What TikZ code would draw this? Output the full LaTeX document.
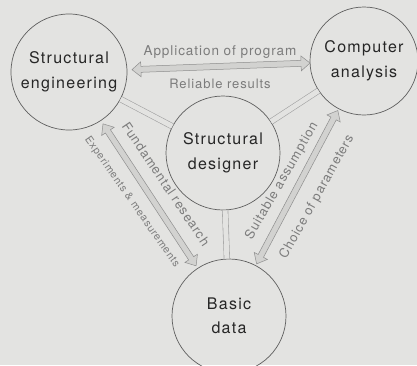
\documentclass[tikz,border=0pt]{standalone}
\usepackage{fontspec}
\setmainfont{TeX Gyre Heros}
\newfontfamily\mainf[LetterSpace=8]{TeX Gyre Heros}
\newfontfamily\labf[LetterSpace=7]{TeX Gyre Heros}
\usetikzlibrary{calc}
\definecolor{bg}{HTML}{E3E3E1}
\definecolor{circline}{HTML}{5E5E5E}
\definecolor{maintext}{HTML}{262626}
\definecolor{labtext}{HTML}{7C7C7C}
\definecolor{arrline}{HTML}{8E8E8E}
\definecolor{arrfill}{HTML}{D2D2D0}
\definecolor{bandline}{HTML}{A2A2A2}
\tikzset{
  circ/.style={circle, draw=circline, line width=0.7pt, minimum size=#1, inner sep=0pt,
    align=center, text=maintext, font=\mainf\fontsize{16}{24.5}\selectfont},
  lab/.style={text=labtext, inner sep=0pt, font=\labf\fontsize{13}{15}\selectfont},
  band/.style={draw=bandline, line width=0.6pt, double=bg, double distance=5pt},
  bigarrow/.style={draw=arrline, fill=arrfill, line width=0.5pt, line join=miter,
    to path={
      -- ($(\tikztostart)!9pt!(\tikztotarget)!7.5pt!90:(\tikztotarget)$)
      -- ($(\tikztostart)!9pt!(\tikztotarget)!3pt!90:(\tikztotarget)$)
      -- ($(\tikztotarget)!9pt!(\tikztostart)!3pt!-90:(\tikztostart)$)
      -- ($(\tikztotarget)!9pt!(\tikztostart)!7.5pt!-90:(\tikztostart)$)
      -- (\tikztotarget)
      -- ($(\tikztotarget)!9pt!(\tikztostart)!7.5pt!90:(\tikztostart)$)
      -- ($(\tikztotarget)!9pt!(\tikztostart)!3pt!90:(\tikztostart)$)
      -- ($(\tikztostart)!9pt!(\tikztotarget)!3pt!-90:(\tikztotarget)$)
      -- ($(\tikztostart)!9pt!(\tikztotarget)!7.5pt!-90:(\tikztotarget)$)
      -- cycle}}
}
\begin{document}
\begin{tikzpicture}[x=1pt,y=-1pt]
\fill[bg] (0,0) rectangle (417,365);
\useasboundingbox (0,0) rectangle (417,365);

\node[circ=116pt] (se) at (69,72) {Structural\\engineering};
\node[circ=108pt] (ca) at (364,61) {Computer\\analysis};
\node[circ=114pt] (des) at (223,153) {Structural\\designer};
\node[circ=114pt] (bd) at (229,316) {Basic\\data};

\draw[band] (des) -- (se);
\draw[band] (des) -- (ca);
\draw[band] (des) -- (bd);

\coordinate (h1) at ($(se)!63pt!(ca)$);
\coordinate (h2) at ($(ca)!54pt!(se)$);
\coordinate (l1) at ($(se)!62pt!(bd)$);
\coordinate (l2) at ($(bd)!60pt!(se)$);
\coordinate (r1) at ($(ca)!56pt!(bd)$);
\coordinate (r2) at ($(bd)!59pt!(ca)$);

\path[bigarrow] (h1) to (h2);
\path[bigarrow] (l1) to (l2);
\path[bigarrow] (r1) to (r2);

\node[lab, anchor=base, font=\labf\fontsize{13.5}{15}\selectfont] (t1) at (220,55) {Application of program};
\node[lab, anchor=base] (t2) at (220,88) {Reliable results};
\node[lab, rotate=-56] (t3) at (166,184) {Fundamental research};
\node[lab, rotate=-55, font=\labf\fontsize{10.5}{12}\selectfont] (t4) at (132,202) {Experiments \& measurements};
\node[lab, rotate=60] (t5) at (282,181) {Suitable assumption};
\node[lab, rotate=61] (t6) at (317,197) {Choice of parameters};
\end{tikzpicture}
\end{document}
